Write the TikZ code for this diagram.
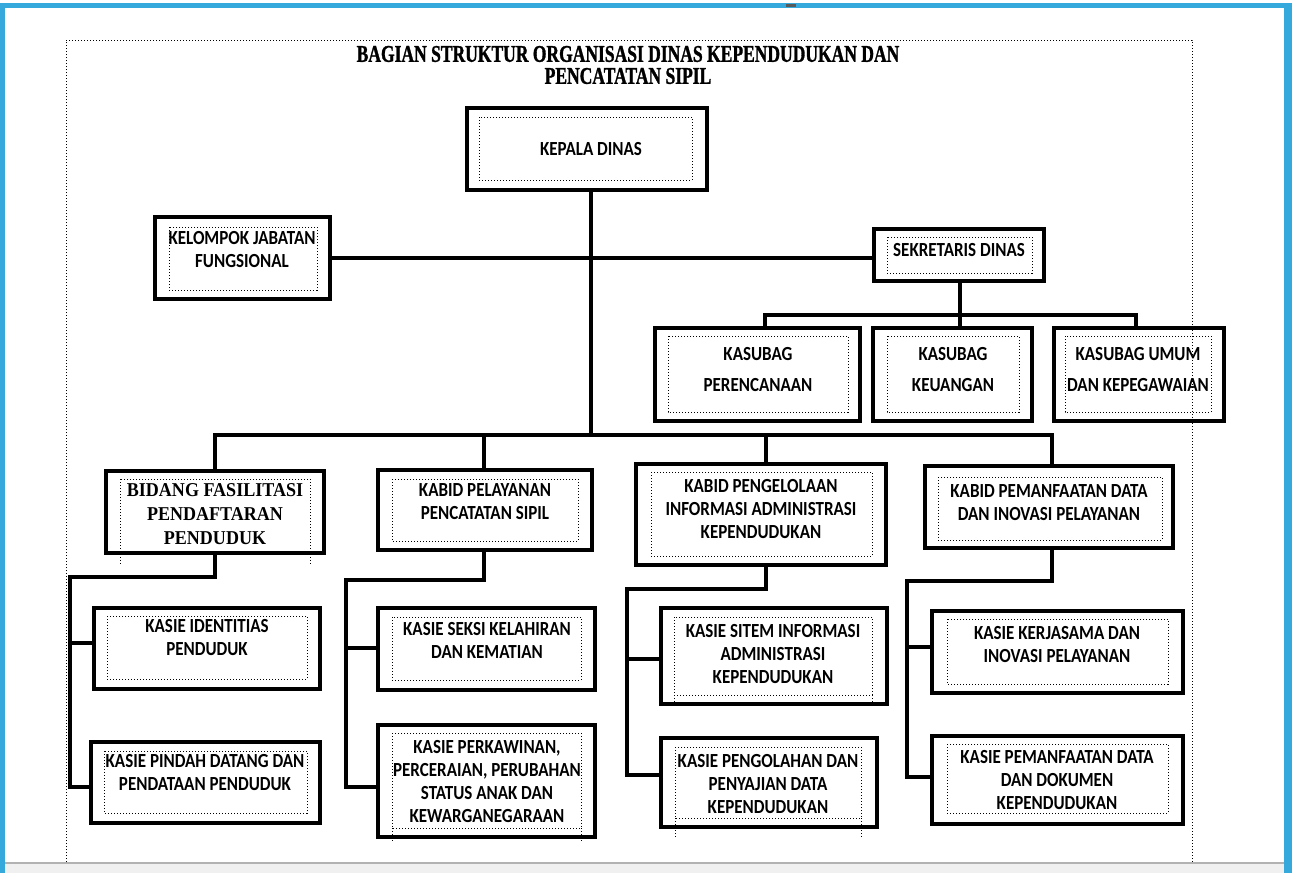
\documentclass[tikz,border=0pt]{standalone}
\usepackage{fontspec}
\usetikzlibrary{fit}
\newfontfamily\bodyfont[FakeStretch=0.85]{Carlito}
\newfontfamily\titlefont[FakeStretch=0.73,FakeBold=1.2]{Liberation Serif}
\newfontfamily\bidfont[FakeStretch=0.92]{Liberation Serif}
\definecolor{framebl}{HTML}{35A8DC}
\tikzset{
  obox/.style={draw, line width=2pt, inner sep=0pt},
  ibox/.style={line width=0.5pt, densely dotted},
  conn/.style={line width=1.6pt, line join=miter},
  txt/.style={align=center, inner sep=0pt, font={\bodyfont\bfseries\fontsize{10pt}{11.5pt}\selectfont}},
  txtw/.style={align=center, inner sep=0pt, font={\bodyfont\bfseries\fontsize{10pt}{15.5pt}\selectfont}},
  bidtxt/.style={align=center, inner sep=0pt, font={\bidfont\bfseries\fontsize{9.8pt}{11.8pt}\selectfont}},
  ttl/.style={inner sep=0pt, font={\titlefont\bfseries\fontsize{12pt}{13pt}\selectfont}},
}
\newcommand{\orgbox}[5]{%
  \coordinate (#1-a) at (#2,#3);
  \coordinate (#1-b) at (#4,#5);
  \node[obox, fit=(#1-a)(#1-b)] (#1) {};}
\newcommand{\innerbox}[4]{\draw[ibox] (#1,#2) rectangle (#3,#4);}
\begin{document}
\begin{tikzpicture}[x=0.5pt,y=-0.5pt]
\useasboundingbox (0,0) rectangle (1295,873);
% screen frame
\fill[white] (0,0) rectangle (1295,873);
\fill[framebl] (0,3) rectangle (1292,8);
\fill[framebl] (0,3) rectangle (5,873);
\fill[framebl] (1284,3) rectangle (1292,873);
\fill[gray!12] (5,863) rectangle (1284,873);
\draw[gray!60, line width=0.6pt] (5,863) -- (1284,863);
\fill[black!65] (786,4) rectangle (796,7);
% page frame
\draw[ibox] (66,862) -- (66,40) -- (1192,40) -- (1192,862);
% title
\node[ttl] (title1) at (628,54) {BAGIAN STRUKTUR ORGANISASI DINAS KEPENDUDUKAN DAN};
\node[ttl] (title2) at (628,76) {PENCATATAN SIPIL};

% boxes
\orgbox{kd}{467}{108}{707}{190}
\innerbox{479}{117}{692}{180}
\node[txt] (kd-t) at (591,149) {KEPALA DINAS};

\orgbox{kel}{155}{217}{330}{299}
\innerbox{169}{227}{317}{290}
\node[txt] (kel-t) at (242,250) {KELOMPOK JABATAN\\FUNGSIONAL};

\orgbox{sek}{874}{229}{1044}{281}
\innerbox{887}{237}{1032}{273}
\node[txt] (sek-t) at (959,250) {SEKRETARIS DINAS};

\orgbox{per}{655}{328}{860}{421}
\innerbox{668}{336}{848}{412}
\node[txtw] (per-t) at (758,370) {KASUBAG\\PERENCANAAN};

\orgbox{keu}{873}{328}{1032}{421}
\innerbox{887}{336}{1019}{412}
\node[txtw] (keu-t) at (953,370) {KASUBAG\\KEUANGAN};

\orgbox{umum}{1054}{328}{1224}{421}
\innerbox{1065}{336}{1211}{412}
\node[txtw] (umum-t) at (1138,370) {KASUBAG UMUM\\DAN KEPEGAWAIAN};

\orgbox{bid}{106}{471}{324}{553}
\innerbox{120}{479}{310}{551}
\draw[ibox] (120,551) -- (120,566);
\draw[ibox] (310,551) -- (310,566);
\node[bidtxt] (bid-t) at (215,514) {BIDANG FASILITASI\\PENDAFTARAN\\PENDUDUK};

\orgbox{pel}{378}{470}{592}{550}
\innerbox{392}{479}{578}{541}
\node[txt] (pel-t) at (485,502) {KABID PELAYANAN\\PENCATATAN SIPIL};

\orgbox{peng}{636}{464}{886}{565}
\innerbox{651}{472}{872}{556}
\node[txt] (peng-t) at (761,509) {KABID PENGELOLAAN\\INFORMASI ADMINISTRASI\\KEPENDUDUKAN};

\orgbox{pem}{925}{466}{1173}{548}
\innerbox{938}{477}{1162}{540}
\node[txt] (pem-t) at (1049,503) {KABID PEMANFAATAN DATA\\DAN INOVASI PELAYANAN};

\orgbox{ki}{94}{608}{320}{689}
\innerbox{107}{616}{307}{679}
\node[txt] (ki-t) at (207,638) {KASIE IDENTITIAS\\PENDUDUK};

\orgbox{pindah}{91}{742}{320}{823}
\innerbox{104}{751}{307}{813}
\node[txt] (pindah-t) at (205,773) {KASIE PINDAH DATANG DAN\\PENDATAAN PENDUDUK};

\orgbox{seksi}{378}{608}{595}{690}
\innerbox{392}{617}{581}{680}
\node[txt] (seksi-t) at (487,640) {KASIE SEKSI KELAHIRAN\\DAN KEMATIAN};

\orgbox{perk}{378}{725}{595}{837}
\innerbox{392}{733}{581}{828}
\draw[ibox] (392,828) -- (392,842);
\draw[ibox] (581,828) -- (581,842);
\node[txt] (perk-t) at (487,781) {KASIE PERKAWINAN,\\PERCERAIAN, PERUBAHAN\\STATUS ANAK DAN\\KEWARGANEGARAAN};

\orgbox{sitem}{661}{608}{887}{704}
\innerbox{674}{617}{872}{695}
\draw[ibox] (674,695) -- (674,703);
\draw[ibox] (872,695) -- (872,703);
\node[txt] (sitem-t) at (773,654) {KASIE SITEM INFORMASI\\ADMINISTRASI\\KEPENDUDUKAN};

\orgbox{pengol}{661}{738}{877}{827}
\innerbox{675}{747}{861}{818}
\draw[ibox] (675,818) -- (675,838);
\draw[ibox] (861,818) -- (861,838);
\node[txt] (pengol-t) at (768,784) {KASIE PENGOLAHAN DAN\\PENYAJIAN DATA\\KEPENDUDUKAN};

\orgbox{ker}{932}{611}{1183}{693}
\innerbox{947}{619}{1168}{684}
\node[txt] (ker-t) at (1057,645) {KASIE KERJASAMA DAN\\INOVASI PELAYANAN};

\orgbox{pemd}{932}{736}{1183}{824}
\innerbox{947}{744}{1168}{813}
\node[txt] (pemd-t) at (1057,780) {KASIE PEMANFAATAN DATA\\DAN DOKUMEN\\KEPENDUDUKAN};

% connectors
\coordinate (mj) at (591,435);
\draw[conn] (mj |- kd.south) -- (mj);
\draw[conn] (kel.east) -- (kel.east -| sek.west);

\coordinate (sbar) at (960,315);
\coordinate (sbl) at (765,315);
\coordinate (sbr) at (1136,315);
\draw[conn] (sbar |- sek.south) -- (sbar |- keu.north);
\draw[conn] (sbl |- per.north) -- (sbl) -- (sbr) -- (sbr |- umum.north);

\coordinate (d1) at (215,435);
\coordinate (d2) at (484,435);
\coordinate (d3) at (766,435);
\coordinate (d4) at (1052,435);
\draw[conn] (d1 |- bid.north) -- (d1) -- (d4) -- (d4 |- pem.north);
\draw[conn] (d2) -- (d2 |- pel.north);
\draw[conn] (d3) -- (d3 |- peng.north);

% column 1
\coordinate (c1) at (70,577);
\coordinate (c1k) at (70,643);
\coordinate (c1p) at (70,787);
\draw[conn] (d1 |- bid.south) -- (d1 |- c1) -- (c1) -- (c1p) -- (c1p -| pindah.west);
\draw[conn] (c1k) -- (c1k -| ki.west);
% column 2
\coordinate (c2) at (346,580);
\coordinate (c2k) at (346,648);
\coordinate (c2p) at (346,787);
\draw[conn] (d2 |- pel.south) -- (d2 |- c2) -- (c2) -- (c2p) -- (c2p -| perk.west);
\draw[conn] (c2k) -- (c2k -| seksi.west);
% column 3
\coordinate (c3) at (627,589);
\coordinate (c3k) at (627,659);
\coordinate (c3p) at (627,775);
\draw[conn] (d3 |- peng.south) -- (d3 |- c3) -- (c3) -- (c3p) -- (c3p -| pengol.west);
\draw[conn] (c3k) -- (c3k -| sitem.west);
% column 4
\coordinate (c4) at (907,581);
\coordinate (c4k) at (907,647);
\coordinate (c4p) at (907,777);
\draw[conn] (d4 |- pem.south) -- (d4 |- c4) -- (c4) -- (c4p) -- (c4p -| pemd.west);
\draw[conn] (c4k) -- (c4k -| ker.west);
\end{tikzpicture}
\end{document}
